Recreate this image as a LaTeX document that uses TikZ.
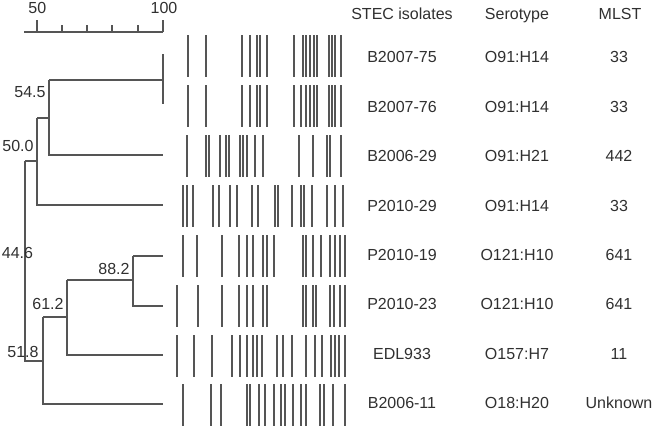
\documentclass[tikz,border=0pt]{standalone}
\usepackage{fontspec}
\setmainfont{Liberation Sans}
\definecolor{txt}{HTML}{303030}
\definecolor{ln}{HTML}{555555}
\definecolor{bandc}{HTML}{555555}
\begin{document}
\begin{tikzpicture}[x=1pt,y=-1pt,
  font=\fontsize{16}{18}\selectfont,
  tree/.style={draw=ln, line width=1.8pt},
  bandline/.style={draw=bandc, line width=2pt},
  lbl/.style={text=txt, inner sep=0pt, anchor=base},
  val/.style={text=txt, inner sep=0pt, anchor=center}]
\useasboundingbox (0,0) rectangle (655,426);
\fill[white] (0,0) rectangle (655,426);

% scale bar
\coordinate (s0) at (24,32);
\coordinate (s1) at (163,32);
\draw[tree] (s0) -- (s1);
\draw[tree] (37,32) -- (37,20);
\draw[tree] (163,32) -- (163,20);
\foreach \t in {62,87,112,138} \draw[tree] (\t,32) -- (\t,25);
\node[val] (sc50) at (37.3,7.5) {50};
\node[val] (sc100) at (164,7.5) {100};

% leaves
\coordinate (l1) at (163,54);
\coordinate (l2) at (163,104);
\coordinate (l3) at (163,155);
\coordinate (l4) at (163,205);
\coordinate (l5) at (163,256);
\coordinate (l6) at (163,306);
\coordinate (l7) at (163,355);
\coordinate (l8) at (163,404);
% internal nodes
\coordinate (n100) at (163,80);
\coordinate (n545) at (49,80);
\coordinate (n500) at (37,118);
\coordinate (n446) at (25,161);
\coordinate (n882) at (133,280);
\coordinate (n612) at (67,317);
\coordinate (n518) at (43,361);

\draw[tree] (l1) -- (l2);
\draw[tree] (n545) -- (n100);
\draw[tree] (n545) |- (l3);
\draw[tree] (n500) -- (n500 -| n545);
\draw[tree] (n500) |- (l4);
\draw[tree] (n446) -- (n446 -| n500);
\draw[tree] (n446) |- (n518);
\draw[tree] (n518 |- n612) |- (l8);
\draw[tree] (n518 |- n612) -- (n612);
\draw[tree] (n612 |- n882) |- (l7);
\draw[tree] (n612 |- n882) -- (n882);
\draw[tree] (n882 |- l5) -- (l5);
\draw[tree] (n882 |- l5) -- (n882 |- l6) -- (l6);

\node[val] (v545) at (30,92.5) {54.5};
\node[val] (v500) at (18,146) {50.0};
\node[val] (v446) at (17.5,252.5) {44.6};
\node[val] (v882) at (114,269) {88.2};
\node[val] (v612) at (48,304) {61.2};
\node[val] (v518) at (23,351.5) {51.8};

% bands
\def\bh{21}
\foreach \yc/\xs in {
 56/{188.3,205.7,241.7,250,257,260,267,294,302.7,306.3,310,313.7,317,329.3,332.3,335.3,341},
 106/{188.3,205.7,241.7,250,257,260,267,294,300.7,306.3,310,313.7,317,329.3,332.3,335.3,341},
 156/{187.3,206.4,209.3,220,226.4,229.1,240,243.3,247,255,263.3,299,312.7,327.1,330,340.7},
 206/{182.7,187.3,193.3,213.3,219.3,230,237.3,251.7,257.7,275,278.3,292.3,301.4,304.3,312.3,326.7,335,343.3},
 256/{182.7,196.7,222.3,239.3,247.3,253.3,262.7,266.7,274.3,303.3,306.3,313,321,330,335.3,340,344.7},
 306/{176.7,198.3,222.3,239.3,247.3,253.3,262.7,267,303.3,306.3,313,315.7,330,333.7,340,344.7},
 356/{176.7,194,212.3,231.7,240.3,247.3,252.7,257,262.3,277.3,282.7,292.3,306,315.3,322,330.7,335,339,345.3},
 405/{182.7,211,221,246.7,250,259.3,265,274,280.7,285,292.7,300.7,306,320,324,332.7,345}}
 {\foreach \x in \xs {\pgfmathsetmacro{\xr}{round(\x)}\draw[bandline] (\xr,\yc-\bh) -- (\xr,\yc+\bh);}}

% header
\node[lbl] (h1) at (402,19.5) {STEC isolates};
\node[lbl] (h2) at (517,19.5) {Serotype};
\node[lbl] (h3) at (620,19.5) {MLST};

% rows
\foreach \i/\name/\sero/\mlst in {
 0/B2007-75/O91:H14/33, 1/B2007-76/O91:H14/33, 2/B2006-29/O91:H21/442,
 3/P2010-29/O91:H14/33, 4/P2010-19/O121:H10/641, 5/P2010-23/O121:H10/641,
 6/EDL933/O157:H7/11, 7/B2006-11/O18:H20/Unknown}
{
 \pgfmathsetmacro{\yb}{62.8+49.4*\i}
 \node[lbl] (n\i) at (402,\yb) {\name};
 \node[lbl] (s\i) at (517,\yb) {\sero};
 \node[lbl] (m\i) at (619,\yb) {\mlst};
}
\end{tikzpicture}
\end{document}
